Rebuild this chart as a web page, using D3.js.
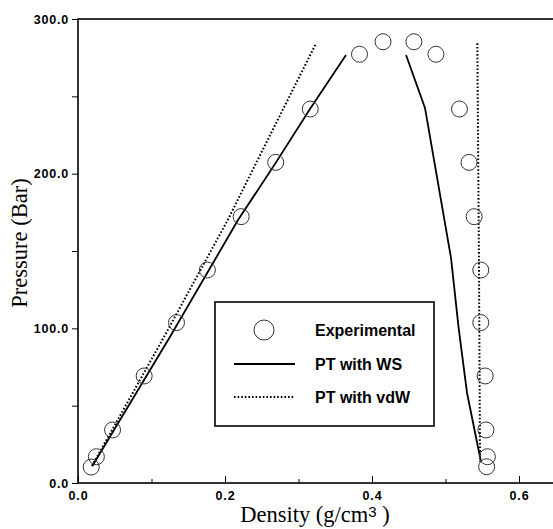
<!DOCTYPE html>
<html>
<head>
<meta charset="utf-8">
<script src="https://d3js.org/d3.v7.min.js"></script>
<style>
  html, body { margin: 0; padding: 0; background: #fff; }
  svg { display: block; }
</style>
</head>
<body>
<svg id="chart" width="553" height="529"></svg>
<script>
// ---- data ----
const expDensity  = [0.018, 0.025, 0.047, 0.090, 0.134, 0.176, 0.222, 0.269, 0.316, 0.383, 0.415,
                     0.457, 0.487, 0.519, 0.532, 0.539, 0.548, 0.548, 0.554, 0.555, 0.557, 0.556];
const expPressure = [10.3, 17.0, 34.3, 69.2, 103.7, 137.7, 172.2, 207.3, 241.8, 277.2, 285.3,
                     285.3, 277.2, 241.8, 207.3, 172.2, 137.7, 103.7, 69.2, 34.3, 17.0, 10.5];

const wsVaporDensity   = [0.0195, 0.1242, 0.2177, 0.2694, 0.3156, 0.3646];
const wsVaporPressure  = [11.0, 93.7, 170.0, 207.3, 241.8, 276.7];
const wsLiquidDensity  = [0.4463, 0.4721, 0.5075, 0.5177, 0.5293, 0.5483];
const wsLiquidPressure = [276.7, 242.5, 145.5, 100.9, 58.2, 13.6];

const vdwVaporDensity   = [0.019, 0.116, 0.2037, 0.2467, 0.3234];
const vdwVaporPressure  = [11.0, 93.6, 170.0, 211.0, 283.8];
const vdwLiquidDensity  = [0.5433, 0.5455, 0.547];
const vdwLiquidPressure = [284.3, 145.0, 13.8];

const xMajorTicks = [0.0, 0.2, 0.4, 0.6];
const xMinorTicks = [0.1, 0.3, 0.5];
const yMajorTicks = [0, 100, 200, 300];
const yMinorTicks = [50, 150, 250];

const legendLabels = ["Experimental", "PT with WS", "PT with vdW"];

(function () {
// ---- layout ----
const svg = d3.select("#chart");
const mLeft = 78, mTop = 19, mBottom = 483;
const x = d3.scaleLinear().domain([0, 0.65]).range([mLeft, mLeft + 0.65 * 735]);
const y = d3.scaleLinear().domain([0, 300]).range([mBottom, mTop]);

const zip = (a, b) => a.map((v, i) => [v, b[i]]);
const line = d3.line().x(d => x(d[0])).y(d => y(d[1]));

// frame
svg.append("rect")
  .attr("x", x(0)).attr("y", y(300))
  .attr("width", x(0.65) - x(0)).attr("height", y(0) - y(300))
  .attr("fill", "none").attr("stroke", "#000").attr("stroke-width", 1.6);

// x axis (ticks inward)
const xAxis = d3.axisBottom(x).tickValues(xMajorTicks).tickSize(-7).tickPadding(8)
  .tickFormat(d3.format(".1f"));
const gx = svg.append("g").attr("transform", `translate(0,${mBottom})`).call(xAxis);
gx.select(".domain").remove();
gx.selectAll(".tick line").attr("stroke-width", 1);
gx.selectAll("text")
  .attr("font-family", "'Liberation Sans', Arial, sans-serif")
  .attr("font-weight", "bold").attr("font-size", 12.5)
  .attr("letter-spacing", 0.8).attr("fill", "#000");
const gxm = svg.append("g").attr("transform", `translate(0,${mBottom})`)
  .call(d3.axisBottom(x).tickValues(xMinorTicks).tickSize(-4).tickFormat(""));
gxm.select(".domain").remove();

// y axis (ticks outward)
const yAxis = d3.axisLeft(y).tickValues(yMajorTicks).tickSize(6).tickPadding(3)
  .tickFormat(d3.format(".1f"));
const gy = svg.append("g").attr("transform", `translate(${mLeft},0)`).call(yAxis);
gy.select(".domain").remove();
gy.selectAll("text")
  .attr("font-family", "'Liberation Sans', Arial, sans-serif")
  .attr("font-weight", "bold").attr("font-size", 12.5)
  .attr("letter-spacing", 0.8).attr("fill", "#000");
const gym = svg.append("g").attr("transform", `translate(${mLeft},0)`)
  .call(d3.axisLeft(y).tickValues(yMinorTicks).tickSize(6).tickFormat(""));
gym.select(".domain").remove();

// axis titles
const xt = svg.append("text")
  .attr("x", 315).attr("y", 522).attr("text-anchor", "middle")
  .attr("font-family", "'Liberation Serif', 'Times New Roman', serif")
  .attr("font-size", 22.5).attr("fill", "#000");
xt.append("tspan").text("Density (g/cm");
xt.append("tspan").attr("dy", -5).attr("font-family", "'Liberation Sans', Arial, sans-serif")
  .attr("font-size", 15).text("3");
xt.append("tspan").attr("dy", 5).text(" )");

svg.append("text")
  .attr("transform", "translate(27,243) rotate(-90)")
  .attr("text-anchor", "middle")
  .attr("font-family", "'Liberation Serif', 'Times New Roman', serif")
  .attr("font-size", 22.5).attr("fill", "#000")
  .text("Pressure (Bar)");

// lines
const solidStyle = s => s.attr("fill", "none").attr("stroke", "#000").attr("stroke-width", 1.8);
const dotStyle = s => s.attr("fill", "none").attr("stroke", "#000").attr("stroke-width", 2)
  .attr("stroke-dasharray", "1.6,2");

svg.append("path").datum(zip(wsVaporDensity, wsVaporPressure)).attr("d", line).call(solidStyle);
svg.append("path").datum(zip(wsLiquidDensity, wsLiquidPressure)).attr("d", line).call(solidStyle);
svg.append("path").datum(zip(vdwVaporDensity, vdwVaporPressure)).attr("d", line).call(dotStyle);
svg.append("path").datum(zip(vdwLiquidDensity, vdwLiquidPressure)).attr("d", line).call(dotStyle);

// experimental points
svg.append("g").selectAll("circle")
  .data(zip(expDensity, expPressure)).join("circle")
  .attr("cx", d => x(d[0])).attr("cy", d => y(d[1])).attr("r", 8)
  .attr("fill", "none").attr("stroke", "#333").attr("stroke-width", 1);

// legend
const lg = svg.append("g");
lg.append("rect").attr("x", 215).attr("y", 302).attr("width", 219).attr("height", 124)
  .attr("fill", "#fff").attr("stroke", "#000").attr("stroke-width", 1.6);
const rowY = [330, 364, 397];
lg.append("circle").attr("cx", 264).attr("cy", rowY[0]).attr("r", 10)
  .attr("fill", "none").attr("stroke", "#333").attr("stroke-width", 1);
lg.append("line").attr("x1", 234).attr("x2", 295).attr("y1", rowY[1]).attr("y2", rowY[1]).call(solidStyle);
lg.append("line").attr("x1", 234).attr("x2", 295).attr("y1", rowY[2]).attr("y2", rowY[2]).call(dotStyle);
lg.selectAll("text.lab").data(legendLabels).join("text").attr("class", "lab")
  .attr("x", 315).attr("y", (d, i) => rowY[i] + 6)
  .attr("font-family", "'Liberation Sans', Arial, sans-serif")
  .attr("font-weight", "bold").attr("font-size", 16).attr("fill", "#000")
  .text(d => d);
})();
</script>
</body>
</html>
